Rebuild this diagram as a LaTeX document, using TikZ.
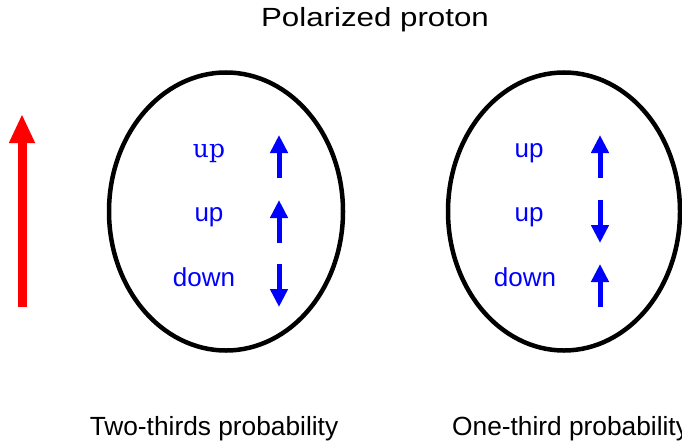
\documentclass[tikz,border=0pt]{standalone}
\usepackage{fontspec}
\setmainfont{Liberation Sans}
\newfontfamily\spinserif{DejaVu Serif}
\usetikzlibrary{arrows.meta,shapes.geometric}

\tikzset{
	quarkbag/.style = {ellipse, draw, line width = 4.5pt, inner sep = 0pt, minimum width = 234pt, minimum height = 278pt},
	spintext/.style = {text = blue, inner sep = 0pt, anchor = base, font = \fontsize{26}{30}\selectfont},
	caption/.style = {inner sep = 0pt, font = \fontsize{26.3}{30}\selectfont},
	spinarrow/.style = {blue, line width = 5pt, -{Triangle[width = 17pt, length = 18pt]}}
}

\begin{document}
\begin{tikzpicture} [x = 1pt, y = -1pt]
	\useasboundingbox (0,0) rectangle (682,444);

	\node [caption, anchor = base] (title) at (375,27) {\scalebox{1.19}[1]{Polarized proton}};

	\draw [red, line width = 9pt, -{Triangle[width = 24pt, length = 29pt]}] (22,307) -- (22,114);

	\node [quarkbag] (twothirds) at (226,211.5) {};
	\node [quarkbag, minimum width = 232pt] (onethird) at (564,211.5) {};

	\node [spintext, font = \fontsize{25}{30}\spinserif] (lup1) at (209,157) {up};
	\node [spintext] (lup2) at (209,221) {up};
	\node [spintext] (ldown) at (204,286) {down};
	\draw [spinarrow] (279,178) -- (279,135);
	\draw [spinarrow] (279,243) -- (279,200);
	\draw [spinarrow] (279,264) -- (279,307);

	\node [spintext] (rup1) at (529,157) {up};
	\node [spintext] (rup2) at (529,221) {up};
	\node [spintext] (rdown) at (525,286) {down};
	\draw [spinarrow] (600,178) -- (600,135);
	\draw [spinarrow] (600,200) -- (600,243);
	\draw [spinarrow] (600,307) -- (600,264);

	\node [caption, anchor = base] (twolabel) at (214,435) {Two-thirds probability};
	\node [caption, anchor = base west] (onelabel) at (452,435) {One-third probability};
\end{tikzpicture}
\end{document}
